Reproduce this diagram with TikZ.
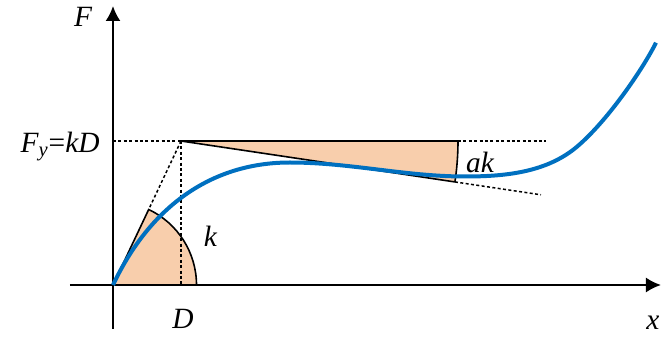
\documentclass[tikz,border=0pt]{standalone}
\usepackage{fontspec}
\setmainfont{Liberation Serif}
\usetikzlibrary{arrows.meta, calc}
\definecolor{curveBlue}{RGB}{0, 112, 192}
\definecolor{wedgeOrange}{RGB}{248, 206, 172}
\tikzset{
  axis/.style={line width=1pt, -{Latex[length=7.5pt,width=7.5pt]}},
  guide/.style={line width=0.75pt, dash pattern=on 1.5pt off 1.2pt},
  edge/.style={line width=0.8pt},
  lbl/.style={anchor=base, inner sep=0pt, font=\fontsize{14.7}{17}\selectfont\itshape}
}

\begin{document}
\begin{tikzpicture}[x=0.5pt, y=0.5pt]
  \useasboundingbox (-113,-52) rectangle (548,285);
  % points
  \coordinate (O) at (0,0);
  \coordinate (D) at (68,0);
  \coordinate (Fy) at (0,144);
  \coordinate (P) at (68,144);
  \coordinate (Q) at ($(P)+(277,0)$);
  \coordinate (R) at ($(P)+(-8.5:277)$);
  \coordinate (Qend) at (433,144);
  \coordinate (Rend) at ($(P)+(-8.5:364)$);
  \coordinate (S) at (83.5,0);
  \coordinate (T) at (64.7:83.5);
  \coordinate (A) at (177,122.5);
  \coordinate (M) at (352,108.5);
  \coordinate (N) at (464,138.3);
  \coordinate (E) at (543,242.3);
  \coordinate (xl) at (-43,0);
  \coordinate (xr) at (548,0);
  \coordinate (yb) at (0,-44);
  \coordinate (yt) at (0,279);

  % shaded wedges
  \fill[wedgeOrange] (O) -- (S) arc[start angle=0, end angle=64.7, radius=83.5] -- cycle;
  \fill[wedgeOrange] (P) -- (Q) arc[start angle=0, end angle=-8.5, radius=277] -- cycle;

  % axes
  \draw[axis] (xl) -- (xr);
  \draw[axis] (yb) -- (yt);

  % guide lines
  \draw[guide] (Fy) -- (P);
  \draw[guide] (P) -- (D);
  \draw[guide] (P) -- (T);
  \draw[guide] (Q) -- (Qend);
  \draw[guide] (R) -- (Rend);

  % wedge outlines
  \draw[edge] (O) -- (T) arc[start angle=64.7, end angle=0, radius=83.5];
  \draw[edge] (R) -- (P) -- (Q) arc[start angle=0, end angle=-8.5, radius=277];

  % curve
  \draw[curveBlue, line width=2pt] (O) .. controls (36.3,76.9) and (97,122.5) .. (A)
    .. controls (237,122.5) and (292,108.5) .. (M)
    .. controls (392,108.5) and (433.5,112.5) .. (N)
    .. controls (494.5,164.1) and (529.6,215.5) .. (E);

  % labels
  \node[lbl] (Flbl) at (-30,258.3) {F};
  \node[lbl] (xlbl) at (540,-45) {x};
  \node[lbl] (Dlbl) at (70,-43.3) {D};
  \node[lbl] (klbl) at (97.5,38) {k};
  \node[lbl] (aklbl) at (367,112) {ak};
  \node[lbl, anchor=base east] (Fylbl) at (-13,132.5) {F\textsubscript{y}\upshape=\itshape kD};
\end{tikzpicture}
\end{document}
